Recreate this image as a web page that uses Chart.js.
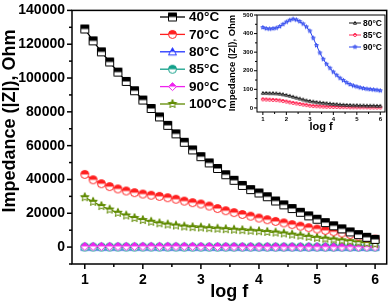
<!DOCTYPE html>
<html>
<head>
<meta charset="utf-8">
<script src="https://cdn.jsdelivr.net/npm/chart.js@4"></script>
<style>
  body { margin: 0; background: #fff; }
  #wrap { position: relative; width: 392px; height: 304px; }
  #main { position: absolute; left: 0; top: 0; }
  #inset { position: absolute; left: 225px; top: 5px; }
</style>
</head>
<body>
<div id="wrap">
  <canvas id="main" width="392" height="304"></canvas>
  <canvas id="inset" width="167" height="130"></canvas>
</div>
<script>
// log f values of the measured points
const logF = [1.000, 1.143, 1.286, 1.429, 1.571, 1.714, 1.857, 2.000, 2.143, 2.286, 2.429, 2.571,
              2.714, 2.857, 3.000, 3.143, 3.286, 3.429, 3.571, 3.714, 3.857, 4.000, 4.143, 4.286,
              4.429, 4.571, 4.714, 4.857, 5.000, 5.143, 5.286, 5.429, 5.571, 5.714, 5.857, 6.000];

const z40 = [129000, 122000, 115500, 109500, 103500, 98000, 92500, 87000, 82000, 77000, 72000, 67000,
             62000, 57500, 53500, 49800, 46500, 42800, 39500, 36500, 34000, 32000, 29800, 27300,
             25000, 22800, 20600, 18500, 16500, 14500, 12600, 10800, 9000, 7400, 5800, 4600];
const z70 = [43000, 39800, 37500, 35800, 34400, 33200, 32200, 31400, 30700, 30000, 29200, 28300,
             27200, 26300, 25500, 24300, 22800, 21500, 20400, 19300, 18300, 17200, 16200, 15200,
             14300, 13300, 12400, 11500, 10700, 9900, 9100, 8300, 7400, 6500, 5500, 4700];
const z80 = [80, 80, 79, 79, 78, 76, 73, 69, 65, 60, 55, 50, 45, 40, 37, 34, 31, 29, 27, 25, 23, 21,
             20, 18, 17, 16, 15, 14, 14, 13, 13, 12, 12, 12, 11, 11];
const z85 = [46, 45, 44, 43, 42, 40, 37, 34, 30, 27, 24, 21, 18, 15, 12, 10, 9, 8, 7, 6, 6, 5, 5, 4,
             4, 4, 3, 3, 3, 3, 3, 3, 2, 2, 2, 2];
const z90 = [433, 427, 425, 427, 430, 438, 450, 462, 472, 478, 474, 465, 452, 436, 414, 376, 336, 296,
             262, 235, 214, 193, 176, 160, 148, 136, 126, 119, 114, 109, 105, 102, 100, 98, 96, 93];
const z100 = [29500, 26800, 24300, 22200, 20300, 18700, 17200, 16000, 15000, 14100, 13400, 12800,
              12200, 11800, 11600, 11200, 10900, 10600, 10300, 10000, 9700, 9400, 9000, 8600,
              8100, 7400, 6800, 6100, 5500, 5000, 4500, 4000, 3500, 2900, 2400, 1900];

const mainLabels = ['40°C', '70°C', '80°C', '85°C', '90°C', '100°C'];
const insetLabels = ['80°C', '85°C', '90°C'];
const xTicks = [1, 2, 3, 4, 5, 6];
const yTicksMain = [0, 20000, 40000, 60000, 80000, 100000, 120000, 140000];
const yTicksInset = [0, 100, 200, 300, 400, 500];

const FONT = '"Liberation Sans", Arial, sans-serif';

function shapePath(g, shape, cx, cy, r) {
  g.beginPath();
  if (shape === 'square') {
    g.rect(cx - r, cy - r, 2 * r, 2 * r);
  } else if (shape === 'circle') {
    g.arc(cx, cy, r, 0, Math.PI * 2);
  } else if (shape === 'triangle') {
    g.moveTo(cx, cy - r);
    g.lineTo(cx + r, cy + r * 0.8);
    g.lineTo(cx - r, cy + r * 0.8);
    g.closePath();
  } else if (shape === 'diamond') {
    g.moveTo(cx, cy - r);
    g.lineTo(cx + r, cy);
    g.lineTo(cx, cy + r);
    g.lineTo(cx - r, cy);
    g.closePath();
  } else if (shape === 'star') {
    for (let k = 0; k < 10; k++) {
      const a = -Math.PI / 2 + k * Math.PI / 5;
      const rr = k % 2 ? r * 0.45 : r;
      const px = cx + rr * Math.cos(a), py = cy + rr * Math.sin(a);
      if (k) g.lineTo(px, py); else g.moveTo(px, py);
    }
    g.closePath();
  }
}

// half-up marker: upper half filled, lower half open
function marker(shape, color, size) {
  const c = document.createElement('canvas');
  c.width = c.height = size + 2;
  const g = c.getContext('2d');
  const h = (size + 2) / 2, r = size / 2 - 0.5;
  shapePath(g, shape, h, h, r);
  g.fillStyle = '#fff';
  g.fill();
  g.save();
  g.clip();
  g.fillStyle = color;
  g.fillRect(0, 0, c.width, h);
  g.restore();
  shapePath(g, shape, h, h, r);
  g.strokeStyle = color;
  g.lineWidth = 1;
  g.stroke();
  return c;
}

function pts(arr) {
  return logF.map((x, i) => ({ x: x, y: arr[i] }));
}

function ds(label, arr, color, pm, lw, order) {
  return {
    label: label, data: pts(arr), borderColor: color, backgroundColor: color,
    borderWidth: lw, pointStyle: pm, pointRadius: 4, showLine: true, tension: 0, order: order
  };
}

const mainColors = ['#000000', '#ff1f1f', '#2233ff', '#12a08a', '#ee22ee', '#5f8a00'];
const mainShapes = ['square', 'circle', 'triangle', 'circle', 'diamond', 'star'];
const mainOrder = [0, 1, 4, 3, 2, 1];
const mainMarks = mainShapes.map((s, i) => marker(s, mainColors[i], s === 'star' ? 10 : 9));
const mainData = [z40, z70, z80, z85, z90, z100];

const insetColors = ['#111111', '#ff2a55', '#2a44ee'];
const insetShapes = ['triangle', 'circle', 'star'];
const insetMarks = insetShapes.map((s, i) => marker(s, insetColors[i], s === 'star' ? 5 : 4));
const insetData = [z80, z85, z90];

function axisDecor(opts) {
  return {
    id: 'decor',
    afterDraw(chart) {
      const g = chart.ctx, a = chart.chartArea;
      const sx = chart.scales.x, sy = chart.scales.y;
      g.save();
      g.strokeStyle = '#000';
      g.lineWidth = opts.lw;
      g.strokeRect(a.left, a.top, a.right - a.left, a.bottom - a.top);
      opts.xMinor.forEach(v => {
        const px = sx.getPixelForValue(v);
        const len = xTicks.includes(v) ? opts.major : opts.minor;
        g.beginPath(); g.moveTo(px, a.bottom); g.lineTo(px, a.bottom + len); g.stroke();
      });
      opts.yMinor.forEach(v => {
        const py = sy.getPixelForValue(v);
        const len = opts.yMajor.includes(v) ? opts.major : opts.minor;
        g.beginPath(); g.moveTo(a.left, py); g.lineTo(a.left - len, py); g.stroke();
      });
      // axis title (vertical)
      g.fillStyle = '#000';
      g.font = 'bold ' + opts.titleSize + 'px ' + FONT;
      g.textAlign = 'center';
      g.textBaseline = 'middle';
      g.translate(opts.titleX, opts.titleY);
      g.rotate(-Math.PI / 2);
      g.fillText('Impedance (|Z|), Ohm', 0, 0);
      g.restore();
      // legend
      g.save();
      chart.data.datasets.forEach((d, i) => {
        const y = opts.legY + opts.legStep * i;
        g.strokeStyle = d.borderColor;
        g.lineWidth = d.borderWidth;
        g.beginPath(); g.moveTo(opts.legX0, y); g.lineTo(opts.legX1, y); g.stroke();
        const m = d.pointStyle;
        g.drawImage(m, (opts.legX0 + opts.legX1) / 2 - m.width / 2, y - m.height / 2);
        g.fillStyle = '#000';
        g.font = 'bold ' + opts.legSize + 'px ' + FONT;
        g.textAlign = 'left';
        g.textBaseline = 'middle';
        g.fillText(d.label, opts.legText, y + 0.5);
      });
      g.restore();
    }
  };
}

function range(a, b, s) {
  const out = [];
  for (let v = a; v <= b + 1e-9; v += s) out.push(Math.round(v * 100) / 100);
  return out;
}

const plain = v => String(v);

const mainChart = new Chart(document.getElementById('main'), {
  type: 'line',
  data: {
    datasets: mainData.map((arr, i) => ds(mainLabels[i], arr, mainColors[i], mainMarks[i], 1.3, mainOrder[i]))
  },
  options: {
    responsive: false, animation: false, devicePixelRatio: 1,
    layout: { padding: { top: 7, right: 2, left: 0, bottom: 0 } },
    plugins: { legend: { display: false }, tooltip: { enabled: false } },
    scales: {
      x: {
        type: 'linear', min: 0.78, max: 6.2,
        afterBuildTicks: s => { s.ticks = xTicks.map(v => ({ value: v })); },
        afterFit: s => { s.height = 40; },
        ticks: { color: '#000', font: { family: FONT, size: 14, weight: 'bold' }, padding: 3, maxRotation: 0, autoSkip: false, callback: plain },
        grid: { drawOnChartArea: false, tickLength: 5, tickColor: 'rgba(0,0,0,0)' },
        border: { display: false },
        title: { display: true, text: 'log f', color: '#000', font: { family: FONT, size: 18, weight: 'bold' }, padding: { top: 0, bottom: 1 } }
      },
      y: {
        type: 'linear', min: -10000, max: 140000,
        afterBuildTicks: s => { s.ticks = yTicksMain.map(v => ({ value: v })); },
        afterFit: s => { s.width = 72; },
        ticks: { color: '#000', font: { family: FONT, size: 14, weight: 'bold' }, padding: 2, autoSkip: false, callback: plain },
        grid: { drawOnChartArea: false, tickLength: 5, tickColor: 'rgba(0,0,0,0)' },
        border: { display: false }
      }
    }
  },
  plugins: [axisDecor({
    lw: 1.5, major: 5, minor: 3,
    xMinor: range(1, 6, 0.5), yMinor: range(-10000, 140000, 10000), yMajor: yTicksMain,
    titleSize: 18, titleX: 10, titleY: 121,
    legX0: 160, legX1: 185, legText: 189, legY: 17, legStep: 17.4, legSize: 13.5
  })]
});

const insetChart = new Chart(document.getElementById('inset'), {
  type: 'line',
  data: {
    datasets: insetData.map((arr, i) => ds(insetLabels[i], arr, insetColors[i], insetMarks[i], 1, i))
  },
  options: {
    responsive: false, animation: false, devicePixelRatio: 1,
    layout: { padding: { top: 10, right: 7, left: 0, bottom: 0 } },
    plugins: { legend: { display: false }, tooltip: { enabled: false } },
    scales: {
      x: {
        type: 'linear', min: 0.75, max: 6.2,
        afterBuildTicks: s => { s.ticks = xTicks.map(v => ({ value: v })); },
        afterFit: s => { s.height = 23; },
        ticks: { color: '#000', font: { family: FONT, size: 6, weight: 'bold' }, padding: 1, maxRotation: 0, autoSkip: false, callback: plain },
        grid: { drawOnChartArea: false, tickLength: 3, tickColor: 'rgba(0,0,0,0)' },
        border: { display: false },
        title: { display: true, text: 'log f', color: '#000', font: { family: FONT, size: 11, weight: 'bold' }, padding: { top: 0, bottom: 1 } }
      },
      y: {
        type: 'linear', min: -22, max: 500,
        afterBuildTicks: s => { s.ticks = yTicksInset.map(v => ({ value: v })); },
        afterFit: s => { s.width = 32; },
        ticks: { color: '#000', font: { family: FONT, size: 6, weight: 'bold' }, padding: 1, autoSkip: false, callback: plain },
        grid: { drawOnChartArea: false, tickLength: 3, tickColor: 'rgba(0,0,0,0)' },
        border: { display: false }
      }
    }
  },
  plugins: [axisDecor({
    lw: 1, major: 3, minor: 2,
    xMinor: range(1, 6, 0.5), yMinor: range(0, 500, 50), yMajor: yTicksInset,
    titleSize: 9.5, titleX: 7, titleY: 58,
    legX0: 124, legX1: 136, legText: 138, legY: 18, legStep: 12, legSize: 8.5
  })]
});
</script>
</body>
</html>
